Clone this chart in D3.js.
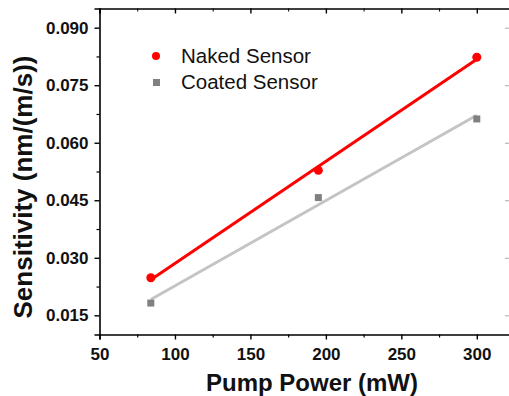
<!DOCTYPE html>
<html>
<head>
<meta charset="utf-8">
<script src="https://cdn.jsdelivr.net/npm/d3@7"></script>
<style>
    html, body { margin: 0; padding: 0; background: white; }
    svg { display: block; font-family: "Liberation Sans", Arial, sans-serif; }
</style>
</head>
<body>
<svg id="chart" width="509" height="396"></svg>
<script>
// pump power (mW) and sensitivity (nm/(m/s))
const pumpPower = [84, 195, 300]
const nakedSensitivity = [0.0248, 0.0528, 0.0823]
const coatedSensitivity = [0.0182, 0.0457, 0.0662]

const xTicks = [50, 100, 150, 200, 250, 300]
const yTicks = [0.015, 0.030, 0.045, 0.060, 0.075, 0.090]
const seriesNames = ['Naked Sensor', 'Coated Sensor']

const plotLeft = 99.5, plotRight = 510, plotTop = 8.5, plotBottom = 334.5

const x = d3.scaleLinear().domain([50, 322]).range([plotLeft, plotRight])
const y = d3.scaleLinear().domain([0.01, 0.095]).range([plotBottom, plotTop])

const svg = d3.select('#chart')

// least squares line over the data range
function fitLine(xs, ys) {
    const mx = d3.mean(xs), my = d3.mean(ys)
    const sxy = d3.sum(xs, (v, i) => (v - mx) * (ys[i] - my))
    const sxx = d3.sum(xs, v => (v - mx) ** 2)
    const slope = sxy / sxx
    const x0 = d3.min(xs), x1 = d3.max(xs)
    return [[x0, my + slope * (x0 - mx)], [x1, my + slope * (x1 - mx)]]
}

const minorX = d3.range(75, 322, 50)
const minorY = d3.range(0.0225, 0.095, 0.015)

// bottom axis
const xAxis = svg.append('g').attr('transform', `translate(0,${plotBottom})`)
    .call(d3.axisBottom(x).tickValues(xTicks).tickFormat(d3.format('d')).tickSize(5).tickPadding(8))
xAxis.select('.domain').attr('stroke-width', 1.6)
xAxis.selectAll('.tick line').attr('stroke-width', 1.4)
xAxis.selectAll('text').attr('font-size', 17).attr('font-weight', 'bold').attr('fill', '#111')
svg.append('g').attr('transform', `translate(0,${plotBottom})`)
    .call(d3.axisBottom(x).tickValues(minorX).tickFormat('').tickSize(3))
    .call(g => g.select('.domain').remove())
    .selectAll('line').attr('stroke-width', 1.2)

// left axis
const yAxis = svg.append('g').attr('transform', `translate(${plotLeft},0)`)
    .call(d3.axisLeft(y).tickValues(yTicks).tickFormat(d3.format('.3f')).tickSize(5).tickPadding(6))
yAxis.select('.domain').attr('stroke-width', 1.6)
yAxis.selectAll('.tick line').attr('stroke-width', 1.4)
yAxis.selectAll('text').attr('font-size', 17).attr('font-weight', 'bold').attr('fill', '#111')
svg.append('g').attr('transform', `translate(${plotLeft},0)`)
    .call(d3.axisLeft(y).tickValues(minorY).tickFormat('').tickSize(3))
    .call(g => g.select('.domain').remove())
    .selectAll('line').attr('stroke-width', 1.2)

// top axis, inward ticks
const topAxis = svg.append('g').attr('transform', `translate(0,${plotTop})`)
    .call(d3.axisTop(x).tickValues(xTicks).tickFormat('').tickSize(-5))
topAxis.select('.domain').attr('stroke-width', 1.6)
topAxis.selectAll('line').attr('stroke-width', 1.4)
svg.append('g').attr('transform', `translate(0,${plotTop})`)
    .call(d3.axisTop(x).tickValues(minorX).tickFormat('').tickSize(-3))
    .call(g => g.select('.domain').remove())

// right axis, mostly off the picture
svg.append('g').attr('transform', `translate(${plotRight},0)`)
    .call(d3.axisRight(y).tickValues(yTicks).tickFormat('').tickSize(-5))
    .call(g => g.select('.domain').remove())
    .selectAll('line').attr('stroke', '#aaa')

// fitted lines
const line = d3.line().x(d => x(d[0])).y(d => y(d[1]))
svg.append('path').datum(fitLine(pumpPower, coatedSensitivity))
    .attr('d', line).attr('fill', 'none').attr('stroke', '#c4c4c4').attr('stroke-width', 3)
svg.append('path').datum(fitLine(pumpPower, nakedSensitivity))
    .attr('d', line).attr('fill', 'none').attr('stroke', '#f00').attr('stroke-width', 3)

// points
svg.append('g').selectAll('rect')
    .data(pumpPower)
    .join('rect')
    .attr('x', d => x(d) - 3.5)
    .attr('y', (d, i) => y(coatedSensitivity[i]) - 3.5)
    .attr('width', 7).attr('height', 7)
    .attr('fill', '#808080')
svg.append('g').selectAll('circle')
    .data(pumpPower)
    .join('circle')
    .attr('cx', d => x(d))
    .attr('cy', (d, i) => y(nakedSensitivity[i]))
    .attr('r', 4.5)
    .attr('fill', '#f00')

// legend
const legend = svg.append('g')
legend.append('circle').attr('cx', 156).attr('cy', 56).attr('r', 4).attr('fill', '#f00')
legend.append('rect').attr('x', 153).attr('y', 79).attr('width', 7).attr('height', 7).attr('fill', '#808080')
legend.selectAll('text')
    .data(seriesNames)
    .join('text')
    .attr('x', 181)
    .attr('y', (d, i) => 63 + i * 26)
    .attr('font-size', 20.5)
    .attr('fill', '#111')
    .text(d => d)

// axis titles
svg.append('text')
    .attr('x', 312).attr('y', 391)
    .attr('text-anchor', 'middle')
    .attr('font-size', 24).attr('font-weight', 'bold').attr('fill', '#111')
    .text('Pump Power (mW)')
svg.append('text')
    .attr('transform', 'translate(32,187) rotate(-90)')
    .attr('text-anchor', 'middle')
    .attr('font-size', 26).attr('font-weight', 'bold').attr('fill', '#111')
    .text('Sensitivity (nm/(m/s))')
</script>
</body>
</html>
